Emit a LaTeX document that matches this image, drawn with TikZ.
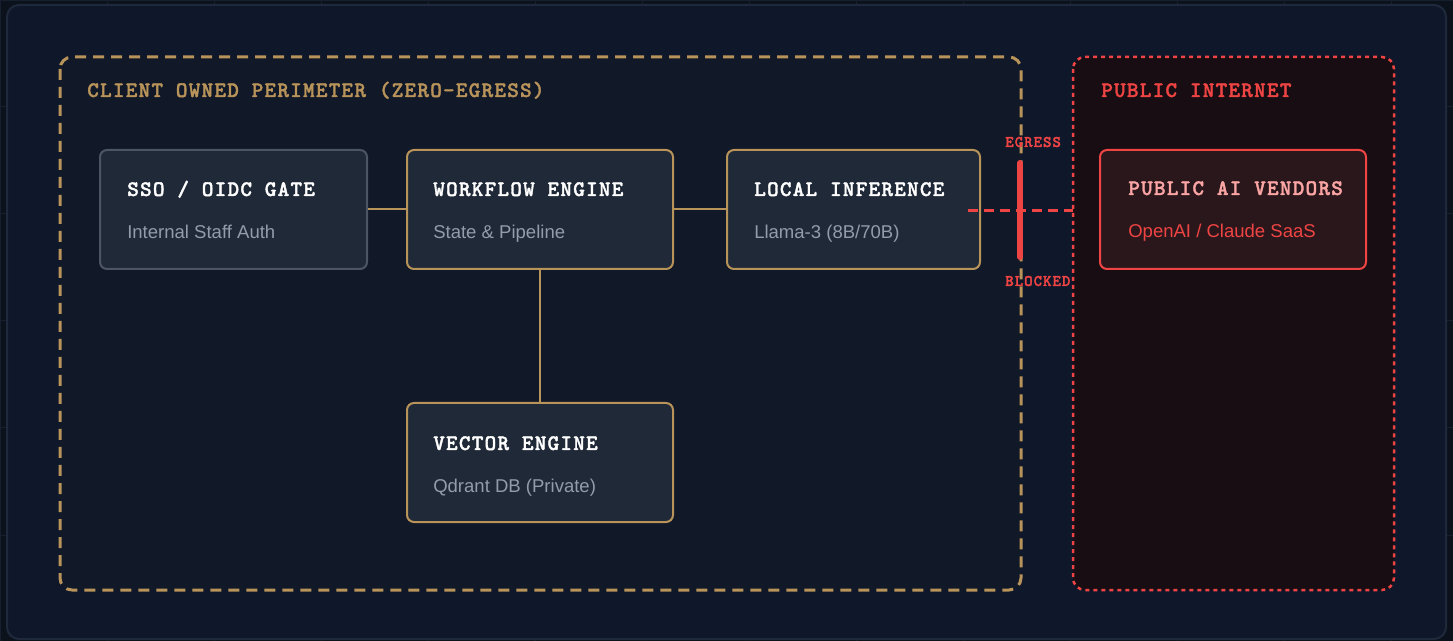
\documentclass[tikz,border=0pt]{standalone}
\usepackage{fontspec}
\setmainfont{Liberation Sans}
\setsansfont{Liberation Sans}
\setmonofont{Liberation Mono}
\newfontfamily\slabfont{lmmonolt10-bold.otf}[FakeBold=1.6, LetterSpace=5.5]
\usetikzlibrary{positioning}
\definecolor{pagebg}{HTML}{0C121C}
\definecolor{panelbg}{HTML}{0F172A}
\definecolor{panelrim}{HTML}{1E293B}
\definecolor{zonebg}{HTML}{111827}
\definecolor{netbg}{HTML}{170D12}
\definecolor{gold}{HTML}{B8935A}
\definecolor{alarm}{HTML}{EF4444}
\definecolor{alarmsoft}{HTML}{FCA5A5}
\definecolor{boxbg}{HTML}{1F2937}
\definecolor{boxrim}{HTML}{4B5563}
\definecolor{vendorbg}{HTML}{2A171B}
\definecolor{subgrey}{HTML}{939CAA}
\def\px{0.75pt}
\tikzset{
  box/.style={
    draw=gold,
    fill=boxbg,
    line width=2*\px,
    rounded corners=7*\px,
    minimum width=266*\px,
    minimum height=119*\px,
  },
  title/.style={anchor=base west, inner sep=0pt, text=white,
    font=\slabfont\fontsize{16.6pt}{19pt}\selectfont},
  subtitle/.style={anchor=base west, inner sep=0pt, text=subgrey,
    font=\sffamily\fontsize{13.9pt}{16pt}\selectfont},
  tag/.style={anchor=base west, inner sep=0pt, text=alarm,
    font=\slabfont\fontsize{12.2pt}{14pt}\selectfont},
  link/.style={draw=gold, line width=2*\px},
}
\begin{document}
\begin{tikzpicture}[x=\px, y=-\px]
            \useasboundingbox (0,0) rectangle (1453,641);
            \fill[pagebg] (0,0) rectangle (1453,641);
            \draw[panelrim!55!pagebg, line width=1*\px] (0,0) grid[step=107*\px] (1453,641);

            % Panel
            \draw[panelrim, fill=panelbg, line width=2*\px, rounded corners=12*\px]
                (7,5) rectangle (1446,639);

            % Zones
            \draw[gold, fill=zonebg, line width=3*\px, dash pattern=on 11*\px off 7*\px,
                rounded corners=12*\px] (60,57) rectangle (1021,590);
            \draw[alarm, fill=netbg, line width=2.5*\px, dash pattern=on 4*\px off 4*\px,
                rounded corners=12*\px] (1073,57) rectangle (1394,590);
            \node[title, text=gold] (zonelabel) at (87,97) {CLIENT OWNED PERIMETER (ZERO-EGRESS)};
            \node[title, text=alarm] (netlabel) at (1101,97) {PUBLIC INTERNET};

            % Boxes
            \node[box, draw=boxrim, minimum width=267*\px] (sso) at (233.5,209.5) {};
            \node[box] (flow) at (540,209.5) {};
            \node[box, minimum width=253*\px] (infer) at (853.5,209.5) {};
            \node[box] (vector) at (540,462.5) {};
            \node[box, draw=alarm, fill=vendorbg] (vendor) at (1233,209.5) {};

            % Links
            \draw[link] (sso.east) -- (flow.west);
            \draw[link] (flow.east) -- (infer.west);
            \draw[link] (flow.south) -- (vector.north);

            % Blocked egress
            \coordinate (leak) at ([xshift=-13*\px]infer.east);
            \coordinate (edge) at (1073,211);
            \coordinate (bartop) at (1020,163);
            \coordinate (barbot) at (1020,257);
            \draw[alarm, line width=3*\px, dash pattern=on 10*\px off 6*\px] (leak |- edge) -- (edge);
            \draw[alarm, line width=6*\px, line cap=round] (bartop) -- (barbot);
            \node[tag] (egress) at (1005,147) {EGRESS};
            \node[tag] (blocked) at (1005,286) {BLOCKED};

            % Labels
            \node[title] (ssot) at (127,196) {SSO / OIDC GATE};
            \node[subtitle] (ssos) at (127,238.5) {Internal Staff Auth};
            \node[title] (flowt) at (433,196) {WORKFLOW ENGINE};
            \node[subtitle] (flows) at (433,238.5) {State \& Pipeline};
            \node[title] (infert) at (754,196) {LOCAL INFERENCE};
            \node[subtitle] (infers) at (754,238.5) {Llama-3 (8B/70B)};
            \node[title] (vectort) at (433,450) {VECTOR ENGINE};
            \node[subtitle] (vectors) at (433,492) {Qdrant DB (Private)};
            \node[title, text=alarmsoft] (vendort) at (1128,195) {PUBLIC AI VENDORS};
            \node[subtitle, text=alarm] (vendors) at (1128,238) {OpenAI / Claude SaaS};
          \end{tikzpicture}
\end{document}
